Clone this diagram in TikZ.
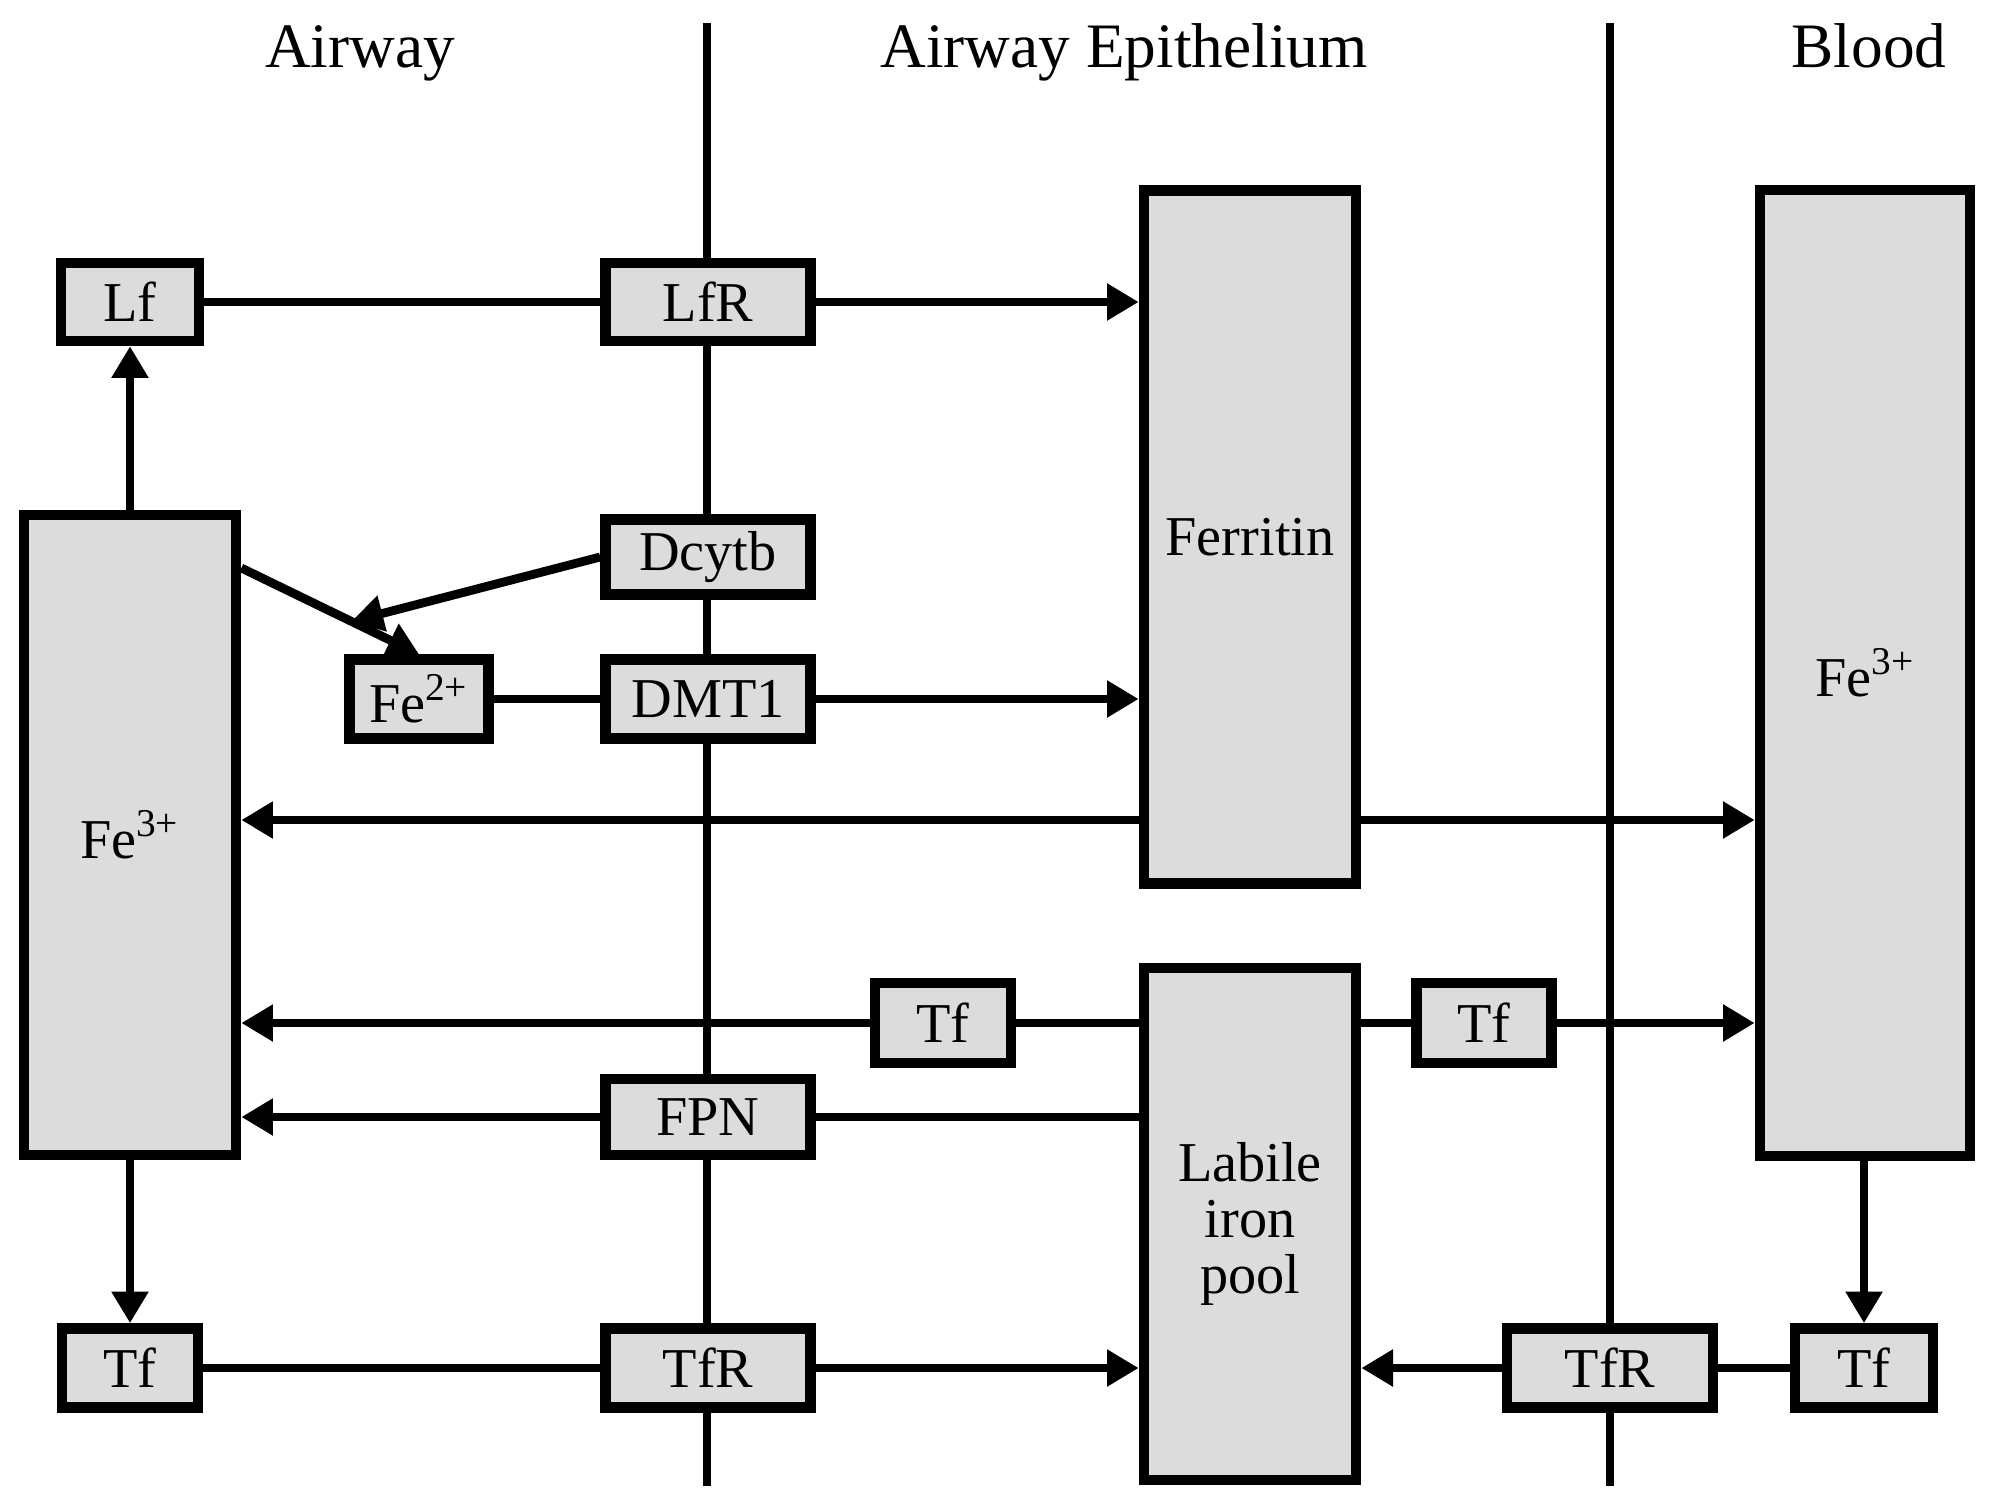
\documentclass[tikz,border=0pt]{standalone}
\usepackage{fontspec}
\setmainfont{Liberation Serif}
\usepackage{tikz}
\usetikzlibrary{arrows.meta, calc, backgrounds}
\definecolor{boxgrey}{HTML}{DCDCDC}

\begin{document}
\begin{tikzpicture}[x=0.01cm, y=-0.01cm,
        box/.style={rectangle, draw=black, line width=3pt, fill=boxgrey, inner sep=0pt, align=center, font=\fontsize{16}{16}\selectfont},
        heading/.style={anchor=base, font=\fontsize{18}{20}\selectfont},
        arrow/.style={-{Triangle[length=9pt, width=10pt]}, line width=2.5pt},
        link/.style={line width=2.5pt},
        membrane/.style={line width=2.5pt}
    ]
        \useasboundingbox (0,0) rectangle (2000,1503);

        % Headings
        \node[heading] (hair) at (360, 68) {Airway};
        \node[heading] (hepi) at (1124, 68) {Airway Epithelium};
        \node[heading] (hblood) at (1869, 68) {Blood};

        % Airway side
        \node[box, minimum width=1.38cm, minimum height=0.78cm] (lf) at (130, 302) {Lf};
        \node[box, minimum width=2.12cm, minimum height=6.40cm] (fe3air) at (130, 835) {Fe\textsuperscript{3+}};
        \node[box, minimum width=1.39cm, minimum height=0.79cm] (fe2) at (419, 699) {Fe\textsuperscript{2+}};
        \node[box, minimum width=1.36cm, minimum height=0.79cm] (tfair) at (130, 1368) {Tf};

        % Apical membrane proteins
        \node[box, minimum width=2.05cm, minimum height=0.78cm] (lfr) at (708, 302) {LfR};
        \node[box, minimum width=2.05cm, minimum height=0.75cm] (dcytb) at (708, 557) {Dcytb};
        \node[box, minimum width=2.05cm, minimum height=0.79cm] (dmt) at (708, 699) {DMT1};
        \node[box, minimum width=2.05cm, minimum height=0.76cm] (fpn) at (708, 1117) {FPN};
        \node[box, minimum width=2.05cm, minimum height=0.79cm] (tfrair) at (708, 1368) {TfR};

        % Epithelium
        \node[box, minimum width=2.12cm, minimum height=6.93cm] (ferritin) at (1250, 537) {Ferritin};
        \node[box, minimum width=2.12cm, minimum height=5.12cm] (labile) at (1250, 1224) {Labile\\iron\\pool};
        \node[box, minimum width=1.36cm, minimum height=0.80cm] (tfa) at (943, 1023) {Tf};
        \node[box, minimum width=1.35cm, minimum height=0.80cm] (tfb) at (1484, 1023) {Tf};

        % Blood side
        \node[box, minimum width=2.06cm, minimum height=0.79cm] (tfrblood) at (1610, 1368) {TfR};
        \node[box, minimum width=2.10cm, minimum height=9.65cm] (fe3blood) at (1865, 673) {Fe\textsuperscript{3+}};
        \node[box, minimum width=1.38cm, minimum height=0.79cm] (tfblood) at (1864, 1368) {Tf};

        % Membranes
        \coordinate (m1top) at (707, 23);
        \coordinate (m1bot) at (707, 1486);
        \coordinate (m2top) at (1610, 23);
        \coordinate (m2bot) at (1610, 1486);
        \begin{scope}[on background layer]
            \draw[membrane] (m1top) -- (m1bot);
            \draw[membrane] (m2top) -- (m2bot);
        \end{scope}

        % Rows used by the long arrows
        \coordinate (fe3row) at (0, 820);
        \coordinate (fe3out) at (fe3air.east |- 0, 568);
        \coordinate (meet) at ($(fe3out)!0.62!(fe2.north)$);

        % Lactoferrin route
        \draw[arrow] (fe3air.north -| lf.south) -- (lf.south);
        \draw[link] (lf.east) -- (lfr.west);
        \draw[arrow] (lfr.east) -- (ferritin.west |- lfr.east);

        % Reduction and DMT1 route
        \draw[arrow] (fe3out) -- (fe2.north);
        \draw[arrow] (dcytb.west) -- (meet);
        \draw[link] (fe2.east) -- (dmt.west);
        \draw[arrow] (dmt.east) -- (ferritin.west |- dmt.east);

        % Ferritin release
        \draw[arrow] (ferritin.west |- fe3row) -- (fe3air.east |- fe3row);
        \draw[arrow] (ferritin.east |- fe3row) -- (fe3blood.west |- fe3row);

        % Export from labile pool
        \draw[link] (labile.west |- tfa.east) -- (tfa.east);
        \draw[arrow] (tfa.west) -- (fe3air.east |- tfa.west);
        \draw[link] (labile.east |- tfb.west) -- (tfb.west);
        \draw[arrow] (tfb.east) -- (fe3blood.west |- tfb.east);
        \draw[link] (labile.west |- fpn.east) -- (fpn.east);
        \draw[arrow] (fpn.west) -- (fe3air.east |- fpn.west);

        % Transferrin uptake
        \draw[arrow] (fe3air.south -| tfair.north) -- (tfair.north);
        \draw[link] (tfair.east) -- (tfrair.west);
        \draw[arrow] (tfrair.east) -- (labile.west |- tfrair.east);
        \draw[arrow] (fe3blood.south -| tfblood.north) -- (tfblood.north);
        \draw[link] (tfblood.west) -- (tfrblood.east);
        \draw[arrow] (tfrblood.west) -- (labile.east |- tfrblood.west);

    \end{tikzpicture}
\end{document}
